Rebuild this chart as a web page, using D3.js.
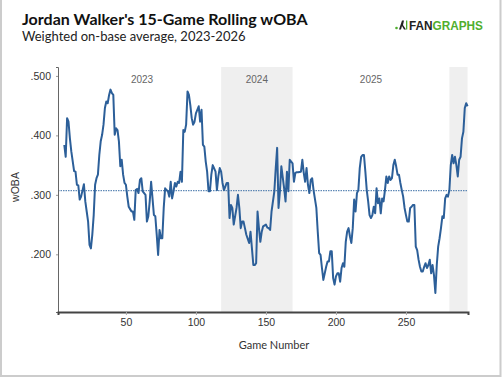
<!DOCTYPE html>
<html>
<head>
<meta charset="utf-8">
<script src="https://cdn.jsdelivr.net/npm/d3@7"></script>
<style>
  html, body { margin: 0; padding: 0; background: #fff; }
  svg { display: block; }
  .tick text { font-family: "Liberation Sans", Arial, sans-serif; font-size: 10.5px; fill: #333; }
</style>
</head>
<body>
<div id="root"></div>
<script>
const width = 502,
      height = 377

// rolling 15-game wOBA
const games = [6,7,8,9,10,11,13,14,15,16,17,18,20,21,22,23,24,25,26,27,28,29,30,31,32,33,34,35,36,37,38,39,40,41,42,43,44,45,46,47,48,49,50,51,52,53,54,55,56,57,58,59,60,61,62,64,65,66,67,68,70,71,72,73,74,75,76,77,78,79,80,81,82,83,84,85,86,87,88,89,90,91,92,93,94,95,96,97,98,99,100,102,103,104,105,106,107,108,109,110,111,112,114,115,116,117,118,119,120,122,123,124,125,126,127,129,130,131,132,133,134,135,136,138,139,140,141,142,143,144,145,146,147,148,150,151,152,153,154,156,157,158,159,160,161,163,164,165,166,167,169,170,171,172,173,175,176,177,178,179,180,181,182,183,184,186,187,188,189,190,191,193,194,195,196,197,198,199,200,201,202,203,204,205,206,207,208,209,210,211,212,213,214,215,216,217,218,219,220,221,222,223,224,225,226,227,228,229,230,231,232,233,234,235,236,237,238,239,240,241,242,243,244,245,246,247,248,249,250,251,252,253,254,255,256,257,258,259,260,261,262,263,264,265,266,267,268,269,270,271,272,273,274,275,276,277,278,279,280,281,282,283,284,285,286,287,288,289,290,291,292,293,294]
const woba = [.384,.364,.429,.423,.395,.373,.340,.339,.317,.316,.292,.297,.318,.289,.272,.255,.216,.210,.233,.266,.317,.328,.334,.367,.390,.401,.418,.446,.457,.454,.468,.477,.471,.468,.401,.412,.409,.390,.348,.359,.334,.320,.317,.297,.280,.276,.272,.272,.258,.308,.310,.303,.325,.328,.306,.300,.255,.264,.289,.322,.266,.264,.233,.199,.241,.227,.227,.278,.311,.308,.306,.297,.322,.294,.306,.320,.314,.322,.320,.339,.322,.409,.406,.418,.474,.468,.451,.429,.418,.423,.437,.449,.423,.443,.384,.381,.356,.339,.306,.306,.334,.350,.339,.308,.331,.345,.339,.320,.308,.320,.320,.261,.283,.278,.250,.278,.300,.278,.244,.255,.255,.244,.233,.219,.238,.210,.182,.182,.185,.272,.244,.221,.238,.247,.250,.245,.244,.241,.272,.306,.345,.379,.278,.306,.348,.311,.289,.339,.306,.359,.353,.322,.337,.338,.338,.339,.359,.337,.322,.345,.317,.303,.325,.328,.308,.278,.238,.202,.199,.177,.157,.179,.188,.188,.205,.205,.160,.149,.163,.168,.168,.154,.177,.185,.179,.221,.238,.244,.230,.219,.244,.292,.272,.303,.308,.345,.364,.367,.367,.339,.308,.289,.266,.261,.266,.280,.269,.311,.286,.294,.269,.294,.289,.308,.331,.320,.331,.325,.328,.350,.359,.348,.334,.334,.320,.308,.297,.278,.266,.255,.255,.278,.280,.283,.283,.213,.207,.191,.179,.171,.171,.179,.185,.177,.182,.191,.168,.182,.165,.135,.182,.213,.227,.244,.264,.261,.294,.300,.297,.308,.350,.367,.353,.364,.350,.331,.359,.364,.395,.406,.446,.454,.449]

const seasons = ["2023", "2024", "2025", "2026"]
const seasonFirst = [6, 118, 170, 281]
const seasonLast = [117, 169, 280, 294]

const leagueAvg = 0.307
const yTicks = [0.2, 0.3, 0.4, 0.5]
const xTicks = [50, 100, 150, 200, 250]

const data = games.map((g, i) => ({ game: g, woba: woba[i] }))

const svg = d3.select('#root')
              .append('svg')
              .attr('width', width)
              .attr('height', height)

const x = d3.scaleLinear()
            .domain([1.5, 294.3])
            .range([58, 468])
const y = d3.scaleLinear()
            .domain([0.103, 0.515])
            .range([312, 67])

// shaded alternate seasons
svg.append('g')
   .selectAll('rect')
   .data(seasons)
   .enter().append('rect')
   .filter((d, i) => i % 2 === 1)
   .attr('x', d => x(seasonFirst[seasons.indexOf(d)]))
   .attr('width', d => x(seasonLast[seasons.indexOf(d)]) - x(seasonFirst[seasons.indexOf(d)]))
   .attr('y', y.range()[1])
   .attr('height', y.range()[0] - y.range()[1])
   .attr('fill', '#efefef')

// season labels (skip the short last one)
svg.append('g')
   .selectAll('text')
   .data(seasons.slice(0, 3))
   .enter().append('text')
   .attr('x', (d, i) => (x(seasonFirst[i]) + x(seasonLast[i])) / 2)
   .attr('y', 83)
   .attr('text-anchor', 'middle')
   .attr('font-family', '"Liberation Sans", Arial, sans-serif')
   .attr('font-size', 10)
   .attr('fill', '#666')
   .text(d => d)

// league average
svg.append('line')
   .attr('x1', x.range()[0])
   .attr('x2', x.range()[1])
   .attr('y1', y(leagueAvg))
   .attr('y2', y(leagueAvg))
   .attr('stroke', '#3a6ea5')
   .attr('stroke-width', 1)
   .attr('stroke-dasharray', '1.5,1')

const line = d3.line()
               .x(d => x(d.game))
               .y(d => y(d.woba))

svg.append('path')
   .datum(data)
   .attr('d', line)
   .attr('fill', 'none')
   .attr('stroke', '#2c5f99')
   .attr('stroke-width', 2)
   .attr('stroke-linejoin', 'round')

// axes
const yAxis = svg.append('g')
                 .attr('transform', `translate(${x.range()[0]},0)`)
                 .call(d3.axisLeft(y).tickValues(yTicks).tickSize(2).tickPadding(5)
                         .tickFormat(d => d3.format('.3f')(d).replace(/^0/, '')))
yAxis.select('.domain').attr('stroke', '#666')
yAxis.selectAll('.tick line').attr('stroke', '#999')

const xAxis = svg.append('g')
                 .attr('transform', `translate(0,${y.range()[0]})`)
                 .call(d3.axisBottom(x).tickValues(xTicks).tickSize(3).tickPadding(4))
xAxis.select('.domain').attr('stroke', '#444').attr('stroke-width', 2)
xAxis.selectAll('.tick line').attr('stroke', '#aaa')

svg.append('text')
   .attr('transform', 'translate(19,187) rotate(-90)')
   .attr('text-anchor', 'middle')
   .attr('font-family', '"Liberation Sans", Arial, sans-serif')
   .attr('font-size', 10.5)
   .attr('fill', '#333')
   .text('wOBA')

svg.append('text')
   .attr('x', 274)
   .attr('y', 349)
   .attr('text-anchor', 'middle')
   .attr('font-family', 'Lato, sans-serif')
   .attr('font-size', 11)
   .attr('fill', '#333')
   .text('Game Number')

// titles
svg.append('text')
   .attr('x', 22)
   .attr('y', 24.5)
   .attr('font-family', 'Lato, sans-serif')
   .attr('font-weight', 'bold')
   .attr('font-size', 16)
   .attr('fill', '#111')
   .text("Jordan Walker's 15-Game Rolling wOBA")

svg.append('text')
   .attr('x', 22)
   .attr('y', 40.5)
   .attr('font-family', 'Lato, sans-serif')
   .attr('font-size', 13)
   .attr('fill', '#222')
   .text('Weighted on-base average, 2023-2026')

// fangraphs logo
const logo = svg.append('g').attr('transform', 'translate(395,25)')
logo.append('circle').attr('cx', 1.5).attr('cy', 3).attr('r', 1.3).attr('fill', '#4fae2e')
logo.append('path')
    .attr('d', 'M4,4.5 L7,-4.5 L9,-4.5 L8,0 L11,4.5 L9,4.5 L7,1 L6,4.5 Z')
    .attr('fill', '#222')
logo.append('rect').attr('x', 11).attr('y', -4.5).attr('width', 1.3).attr('height', 9).attr('fill', '#4fae2e')
const logoText = logo.append('text')
                     .attr('x', 14)
                     .attr('y', 4.8)
                     .attr('font-family', '"Liberation Sans", Arial, sans-serif')
                     .attr('font-weight', 'bold')
                     .attr('font-size', 13)
                     .attr('textLength', 74)
                     .attr('lengthAdjust', 'spacingAndGlyphs')
logoText.append('tspan').attr('fill', '#222').text('FAN')
logoText.append('tspan').attr('fill', '#4fae2e').text('GRAPHS')

// outer frame
svg.append('path')
   .attr('d', `M1,0 V${height - 1} H${width - 1.5} V0`)
   .attr('fill', 'none')
   .attr('stroke', '#ccc')
   .attr('stroke-width', 2)
</script>
</body>
</html>
